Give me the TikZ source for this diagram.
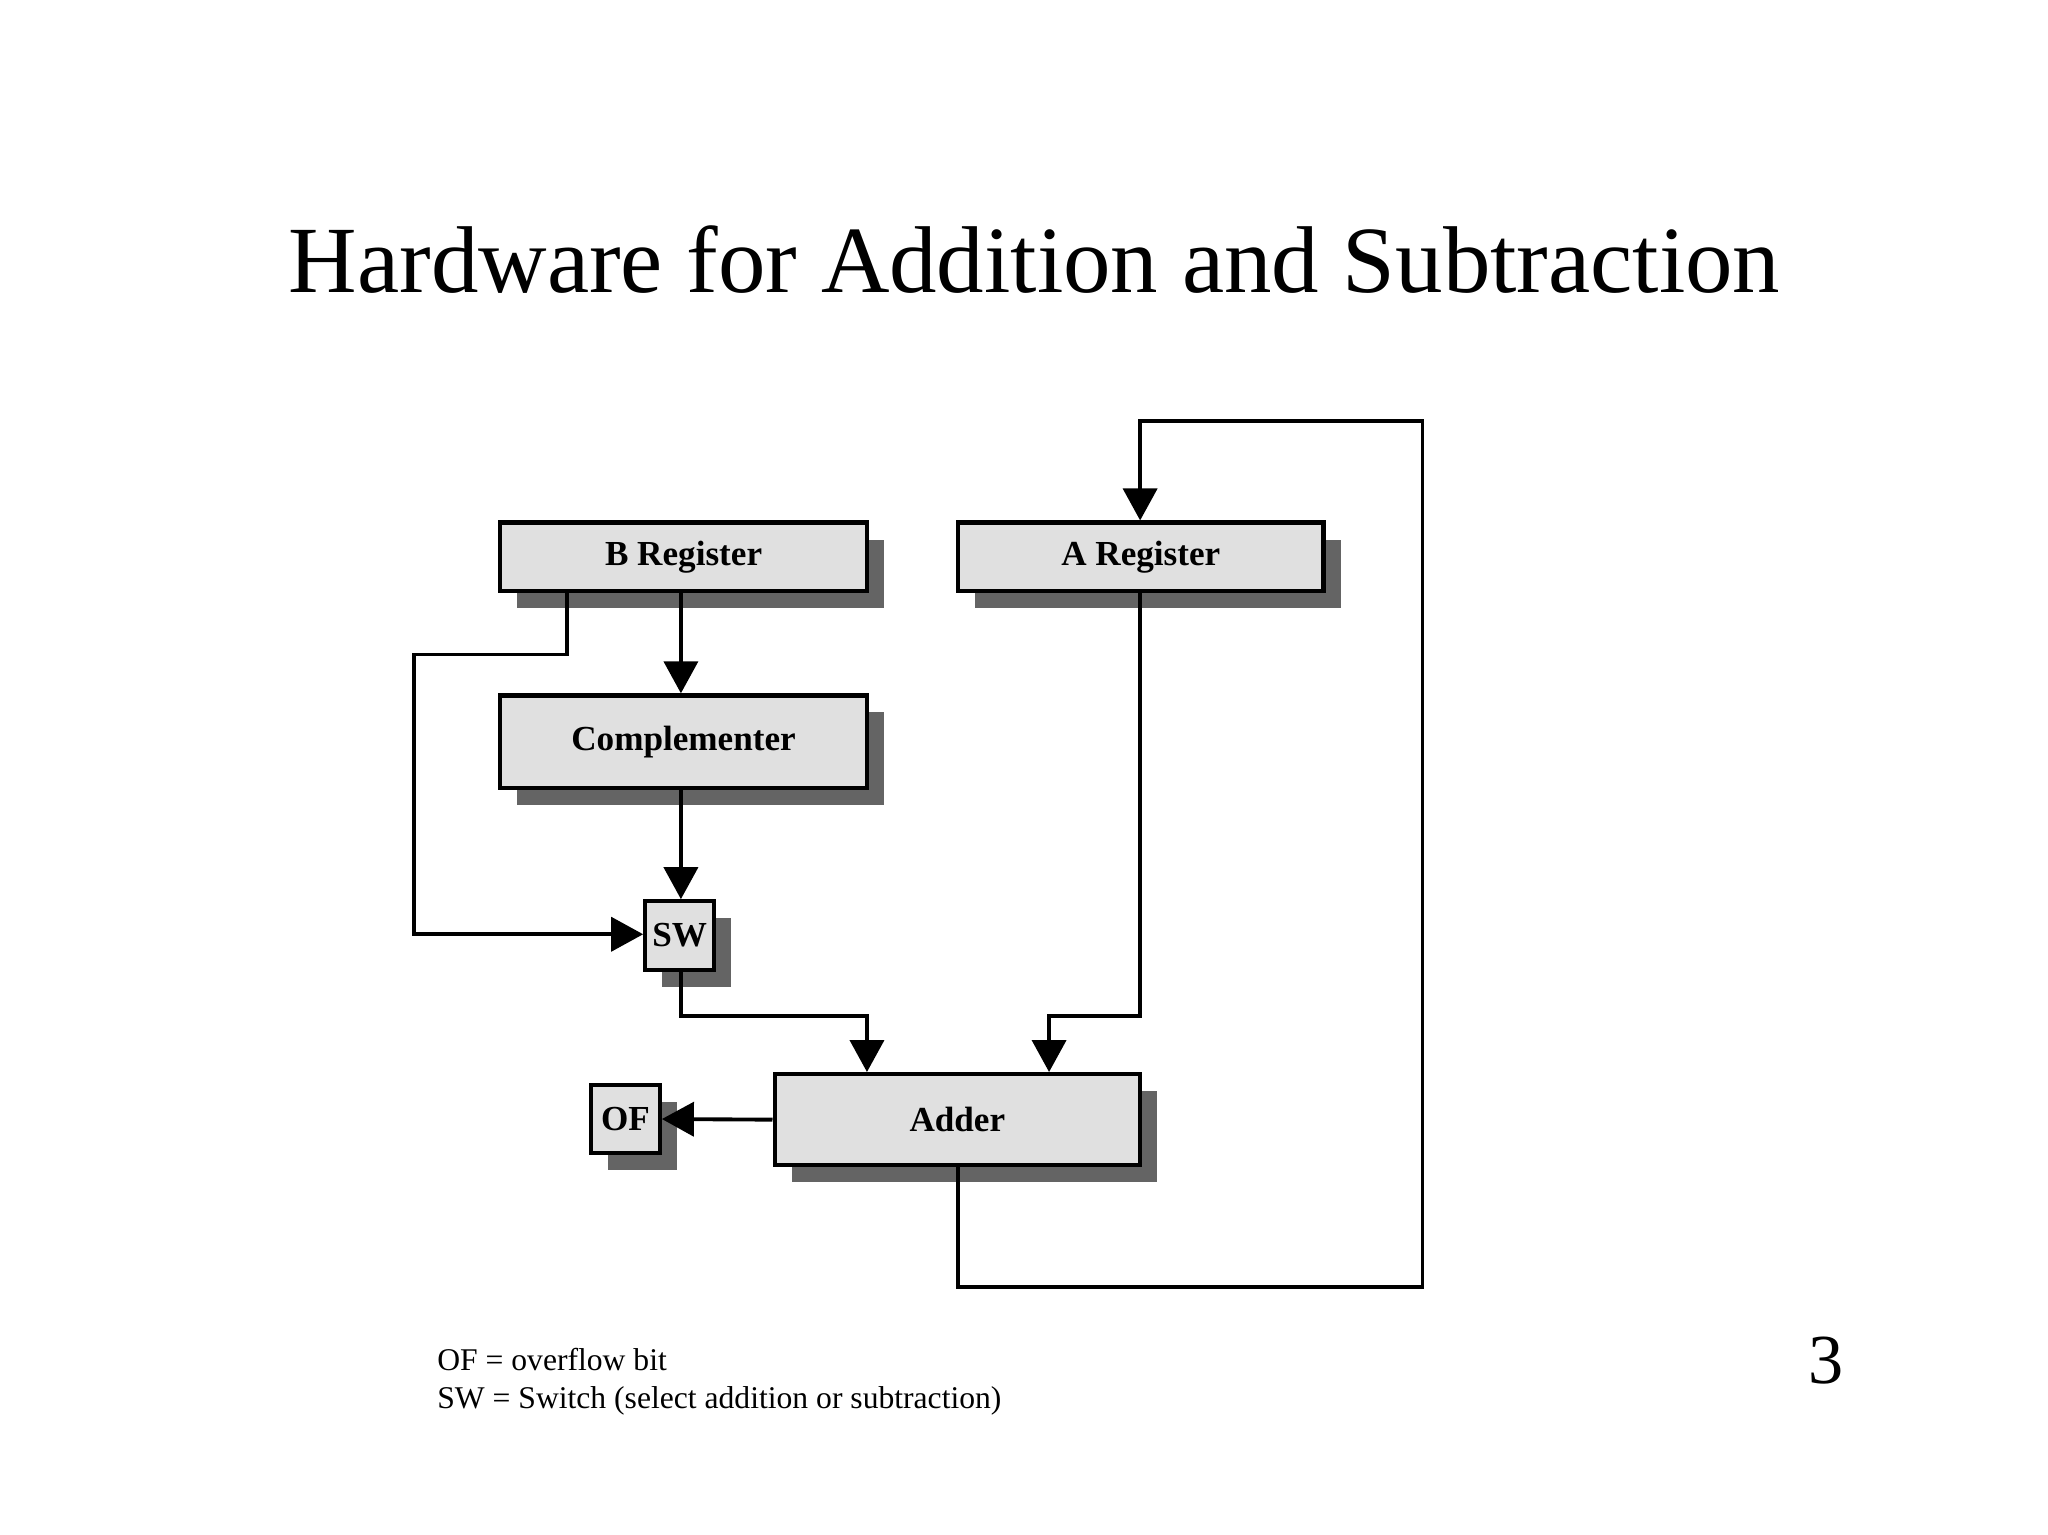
\documentclass[tikz,border=0pt]{standalone}
\usepackage{fontspec}
\setmainfont{Liberation Serif}
\usetikzlibrary{arrows.meta,shadows}
\begin{document}
\begin{tikzpicture}[x=0.013196cm,y=-0.013196cm,
  box/.style={draw,line width=1.2pt,fill={rgb,255:red,224;green,224;blue,224},inner sep=0pt,
    font=\bfseries\fontsize{10}{12}\selectfont,
    drop shadow={shadow xshift=0.17cm,shadow yshift=-0.17cm,fill={rgb,255:red,100;green,100;blue,100},opacity=1}},
  ln/.style={line width=1.1pt},
  arr/.style={ln,-{Triangle[width=0.34cm,length=0.32cm]}}]
\useasboundingbox (0,0) rectangle (1552,1163);
\node[font=\fontsize{27}{32}\selectfont] (title) at (784,197) {Hardware for Addition and Subtraction};
\node[box,minimum width=278*0.013196cm,minimum height=52*0.013196cm] (B) at (518,422) {B Register};
\node[box,minimum width=277*0.013196cm,minimum height=52*0.013196cm] (A) at (864.5,422) {A Register};
\node[box,minimum width=278*0.013196cm,minimum height=70*0.013196cm] (C) at (518,562) {Complementer};
\node[box,minimum width=52*0.013196cm,minimum height=52*0.013196cm] (SW) at (515,709) {SW};
\node[box,minimum width=277*0.013196cm,minimum height=69*0.013196cm] (AD) at (725.5,848.5) {Adder};
\node[box,minimum width=52*0.013196cm,minimum height=52*0.013196cm] (OF) at (474,848) {OF};
\coordinate (c1) at (430,496); \coordinate (c2) at (314,496); \coordinate (c3) at (314,708);
\coordinate (d1) at (516,770); \coordinate (d2) at (657,770);
\coordinate (e1) at (864,770); \coordinate (e2) at (795,770);
\coordinate (f1) at (726,975); \coordinate (f2) at (1078,975); \coordinate (f3) at (1078,319); \coordinate (f4) at (864,319);
\draw[arr] (B.south -| 516,0) -- (C.north -| 516,0);
\draw[arr] (B.south -| c1) -- (c1) -- (c2) -- (c3) -- (SW.west |- c3);
\draw[arr] (C.south -| 516,0) -- (SW.north -| 516,0);
\draw[arr] (SW.south -| d1) -- (d1) -- (d2) -- (AD.north -| d2);
\draw[arr] (A.south -| e1) -- (e1) -- (e2) -- (AD.north -| e2);
\draw[arr] (AD.west) -- (OF.east);
\draw[arr] (AD.south -| f1) -- (f1) -- (f2) -- (f3) -- (f4) -- (A.north -| f4);
\node[anchor=west,align=left,font=\fontsize{9}{11}\selectfont] (leg) at (322,1047) {OF = overflow bit\\SW = Switch (select addition or subtraction)};
\node[font=\fontsize{20}{24}\selectfont] (num) at (1384,1031) {3};
\end{tikzpicture}
\end{document}
